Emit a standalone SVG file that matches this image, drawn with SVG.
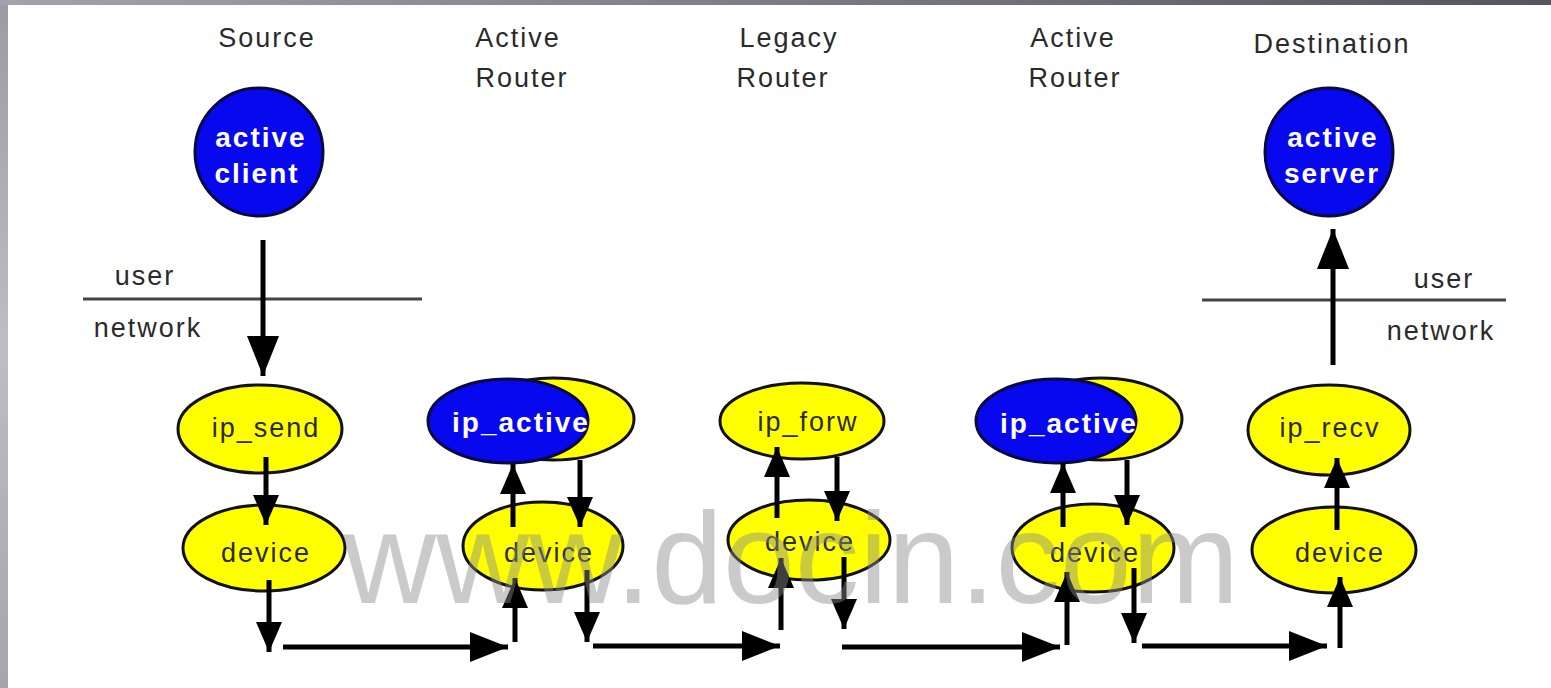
<svg xmlns="http://www.w3.org/2000/svg" width="1551" height="688" viewBox="0 0 1551 688">
  <defs>
    <linearGradient id="edgeLeft" x1="0" y1="0" x2="0" y2="1">
      <stop offset="0" stop-color="#9c9aa4"/>
      <stop offset="0.5" stop-color="#bebcc6"/>
      <stop offset="1" stop-color="#a6a4ae"/>
    </linearGradient>
    <linearGradient id="edgeTop" x1="0" y1="0" x2="1" y2="0">
      <stop offset="0" stop-color="#a4a2ac"/>
      <stop offset="1" stop-color="#56555c"/>
    </linearGradient>
    <marker id="headBig" markerUnits="userSpaceOnUse" markerWidth="40" markerHeight="32" viewBox="0 0 40 32" refX="40" refY="16" orient="auto">
      <path d="M0,0 L40,16 L0,32 Z" fill="#000"/>
    </marker>
    <marker id="head" markerUnits="userSpaceOnUse" markerWidth="38" markerHeight="30" viewBox="0 0 38 30" refX="38" refY="15" orient="auto">
      <path d="M0,0 L38,15 L0,30 Z" fill="#000"/>
    </marker>
    <marker id="headSmall" markerUnits="userSpaceOnUse" markerWidth="30" markerHeight="26" viewBox="0 0 30 26" refX="30" refY="13" orient="auto">
      <path d="M0,0 L30,13 L0,26 Z" fill="#000"/>
    </marker>
    <style>
      .lbl { font-family: "Liberation Sans", Arial, sans-serif; font-size: 27px; letter-spacing: 2px; fill: #2a2a2a; text-anchor: middle; }
      .ylw { fill: #ffff00; stroke: #111; stroke-width: 3; }
      .blu { fill: #0808ee; stroke: #0a0a40; stroke-width: 3; }
      .ntxt { font-family: "Liberation Sans", Arial, sans-serif; font-size: 27px; letter-spacing: 2px; fill: #2a2a2a; text-anchor: middle; }
      .wtxt { font-family: "Liberation Sans", Arial, sans-serif; font-size: 28px; font-weight: bold; letter-spacing: 2px; fill: #ffffff; text-anchor: middle; }
      .sep { stroke: #444; stroke-width: 3; }
      .wire { stroke: #000; stroke-width: 5; fill: none; }
      .mark { font-family: "Liberation Sans", Arial, sans-serif; font-size: 129px; fill: #8c8c8c; opacity: 0.45; }
    </style>
  </defs>

  <rect x="0" y="0" width="1551" height="688" fill="#ffffff"/>
  <rect x="0" y="0" width="8" height="688" fill="url(#edgeLeft)"/>
  <rect x="0" y="0" width="1551" height="5" fill="url(#edgeTop)"/>

  <!-- column headings -->
  <g id="headings">
    <text class="lbl" x="267" y="47">Source</text>
    <text class="lbl" x="518" y="47">Active</text>
    <text class="lbl" x="522" y="87">Router</text>
    <text class="lbl" x="789" y="47">Legacy</text>
    <text class="lbl" x="783" y="87">Router</text>
    <text class="lbl" x="1073" y="47">Active</text>
    <text class="lbl" x="1075" y="87">Router</text>
    <text class="lbl" x="1332" y="53">Destination</text>
  </g>

  <!-- user / network boundaries -->
  <g id="boundary-source">
    <line class="sep" x1="83" y1="299" x2="422" y2="299"/>
    <text class="lbl" x="145" y="285">user</text>
    <text class="lbl" x="148" y="337">network</text>
  </g>
  <g id="boundary-destination">
    <line class="sep" x1="1202" y1="300" x2="1506" y2="300"/>
    <text class="lbl" x="1444" y="288">user</text>
    <text class="lbl" x="1441" y="340">network</text>
  </g>

  <!-- Source host -->
  <g id="active-client">
    <circle class="blu" cx="259" cy="152" r="64"/>
    <text class="wtxt" x="261" y="147">active</text>
    <text class="wtxt" x="257" y="183">client</text>
  </g>
  <g id="ip-send">
    <ellipse class="ylw" cx="260" cy="429" rx="82" ry="44"/>
    <text class="ntxt" x="266" y="437">ip_send</text>
  </g>
  <g id="device-source">
    <ellipse class="ylw" cx="264" cy="548" rx="81" ry="43"/>
    <text class="ntxt" x="266" y="562">device</text>
  </g>

  <!-- Active router 1 -->
  <g id="ip-active-1">
    <ellipse class="ylw" cx="553" cy="419" rx="81" ry="41"/>
    <ellipse class="blu" cx="508" cy="421" rx="80" ry="42"/>
    <text class="wtxt" x="521" y="432">ip_active</text>
  </g>
  <g id="device-router-1">
    <ellipse class="ylw" cx="543" cy="546" rx="80" ry="44"/>
    <text class="ntxt" x="549" y="562">device</text>
  </g>

  <!-- Legacy router -->
  <g id="ip-forw">
    <ellipse class="ylw" cx="802" cy="421" rx="82" ry="38"/>
    <text class="ntxt" x="808" y="431">ip_forw</text>
  </g>
  <g id="device-legacy">
    <ellipse class="ylw" cx="809" cy="540" rx="81" ry="40"/>
    <text class="ntxt" x="810" y="551">device</text>
  </g>

  <!-- Active router 2 -->
  <g id="ip-active-2">
    <ellipse class="ylw" cx="1101" cy="419" rx="81" ry="41"/>
    <ellipse class="blu" cx="1056" cy="421" rx="80" ry="42"/>
    <text class="wtxt" x="1069" y="433">ip_active</text>
  </g>
  <g id="device-router-2">
    <ellipse class="ylw" cx="1093" cy="548" rx="81" ry="44"/>
    <text class="ntxt" x="1095" y="562">device</text>
  </g>

  <!-- Destination host -->
  <g id="active-server">
    <circle class="blu" cx="1329" cy="152" r="64"/>
    <text class="wtxt" x="1333" y="147">active</text>
    <text class="wtxt" x="1332" y="183">server</text>
  </g>
  <g id="ip-recv">
    <ellipse class="ylw" cx="1329" cy="430" rx="81" ry="45"/>
    <text class="ntxt" x="1330" y="437">ip_recv</text>
  </g>
  <g id="device-destination">
    <ellipse class="ylw" cx="1334" cy="550" rx="82" ry="43"/>
    <text class="ntxt" x="1340" y="562">device</text>
  </g>

  <!-- packet path -->
  <g id="connectors">
    <line class="wire" x1="263" y1="240" x2="263" y2="376" marker-end="url(#headBig)"/>
    <line class="wire" x1="266" y1="457" x2="266" y2="525" marker-end="url(#headSmall)"/>
    <line class="wire" x1="269" y1="580" x2="269" y2="652" marker-end="url(#headSmall)"/>
    <line class="wire" x1="283" y1="647" x2="508" y2="647" marker-end="url(#head)"/>

    <line class="wire" x1="513" y1="527" x2="513" y2="464" marker-end="url(#headSmall)"/>
    <line class="wire" x1="580" y1="460" x2="580" y2="527" marker-end="url(#headSmall)"/>
    <line class="wire" x1="515" y1="642" x2="515" y2="578" marker-end="url(#headSmall)"/>
    <line class="wire" x1="587" y1="570" x2="587" y2="642" marker-end="url(#headSmall)"/>
    <line class="wire" x1="593" y1="646" x2="780" y2="646" marker-end="url(#head)"/>

    <line class="wire" x1="777" y1="518" x2="777" y2="447" marker-end="url(#headSmall)"/>
    <line class="wire" x1="837" y1="457" x2="837" y2="521" marker-end="url(#headSmall)"/>
    <line class="wire" x1="781" y1="630" x2="781" y2="558" marker-end="url(#headSmall)"/>
    <line class="wire" x1="844" y1="557" x2="844" y2="629" marker-end="url(#headSmall)"/>
    <line class="wire" x1="842" y1="647" x2="1060" y2="647" marker-end="url(#head)"/>

    <line class="wire" x1="1063" y1="527" x2="1063" y2="463" marker-end="url(#headSmall)"/>
    <line class="wire" x1="1127" y1="460" x2="1127" y2="525" marker-end="url(#headSmall)"/>
    <line class="wire" x1="1067" y1="645" x2="1067" y2="572" marker-end="url(#headSmall)"/>
    <line class="wire" x1="1134" y1="568" x2="1134" y2="643" marker-end="url(#headSmall)"/>
    <line class="wire" x1="1142" y1="646" x2="1327" y2="646" marker-end="url(#head)"/>

    <line class="wire" x1="1340" y1="648" x2="1340" y2="577" marker-end="url(#headSmall)"/>
    <line class="wire" x1="1337" y1="530" x2="1337" y2="458" marker-end="url(#headSmall)"/>
    <line class="wire" x1="1333" y1="365" x2="1333" y2="229" marker-end="url(#headBig)"/>
  </g>

  <text class="mark" x="343" y="603">www.docin.com</text>
</svg>
